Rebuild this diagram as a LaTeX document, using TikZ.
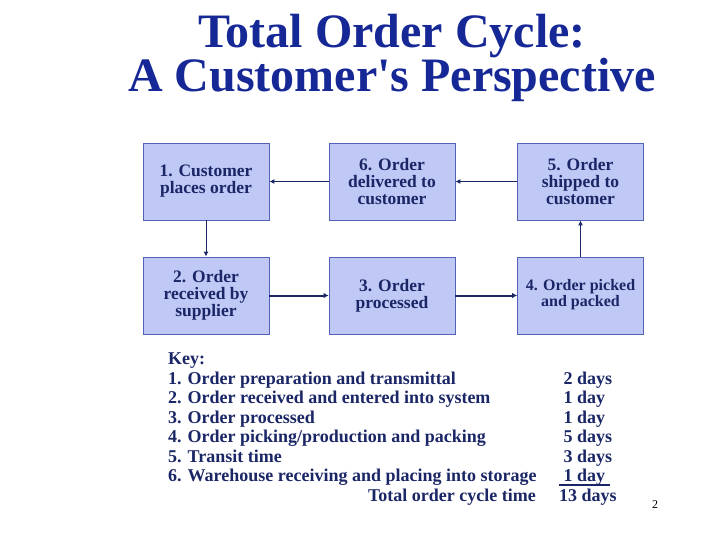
\documentclass[tikz,border=0pt]{standalone}
\usepackage{fontspec}
\setmainfont{Liberation Serif}
\usetikzlibrary{arrows.meta}
\definecolor{titleblue}{RGB}{22,40,150}
\definecolor{navy}{RGB}{26,38,102}
\definecolor{boxfill}{RGB}{192,200,246}
\definecolor{boxline}{RGB}{84,98,182}
\tikzset{
  stagebox/.style={draw=boxline, line width=0.8pt, fill=boxfill, minimum width=126, minimum height=77,
    align=center, text=navy, font=\bfseries\fontsize{17.5}{17}\selectfont, inner sep=2pt},
  thinarrow/.style={draw=navy, line width=1pt, -{Latex[length=5pt,width=5pt]}},
  thickarrow/.style={draw=navy, line width=2pt, -{Latex[length=5pt,width=5.5pt]}},
  keytext/.style={anchor=base west, inner sep=0pt, text=navy, font=\bfseries\fontsize{18}{19.5}\selectfont},
  titletext/.style={anchor=base, inner sep=0pt, text=titleblue, font=\bfseries\fontsize{48}{44}\selectfont}
}
\begin{document}
\begin{tikzpicture}[x=1pt,y=-1pt]
\useasboundingbox (0,0) rectangle (720,540);
% title
\node[titletext] (t1) at (392,48) {Total Order Cycle:};
\node[titletext] (t2) at (392,92) {A Customer\textquotesingle s Perspective};
% boxes
\node[stagebox] (b1) at (206,181.5) {1. Customer\\places order};
\node[stagebox] (b6) at (392,181.5) {6. Order\\delivered to\\customer};
\node[stagebox] (b5) at (580.5,181.5) {5. Order\\shipped to\\customer};
\node[stagebox] (b2) at (206,295.5) {2. Order\\received by\\supplier};
\node[stagebox] (b3) at (392,295.5) {3. Order\\processed};
\node[stagebox, font=\bfseries\fontsize{16}{16}\selectfont, text depth=6pt] (b4) at (580.5,295.5) {4. Order picked\\and packed};
% connectors
\draw[thinarrow] (b6) -- (b1);
\draw[thinarrow] (b5) -- (b6);
\draw[thinarrow] (b1) -- (b2);
\draw[thickarrow] (b2) -- (b3);
\draw[thickarrow] (b3) -- (b4);
\draw[thinarrow] (b4) -- (b5);
% key
\node[keytext] (k0) at (168,364.5) {Key:};
\node[keytext] (k1) at (168,384) {1. Order preparation and transmittal};
\node[keytext] (k2) at (168,403.5) {2. Order received and entered into system};
\node[keytext] (k3) at (168,423) {3. Order processed};
\node[keytext] (k4) at (168,442.5) {4. Order picking/production and packing};
\node[keytext] (k5) at (168,462) {5. Transit time};
\node[keytext] (k6) at (168,481.5) {6. Warehouse receiving and placing into storage};
\node[keytext, anchor=base east] (k7) at (536,501) {Total order cycle time};
\node[keytext] (d1) at (559,384) {\ 2 days};
\node[keytext] (d2) at (559,403.5) {\ 1 day};
\node[keytext] (d3) at (559,423) {\ 1 day};
\node[keytext] (d4) at (559,442.5) {\ 5 days};
\node[keytext] (d5) at (559,462) {\ 3 days};
\node[keytext] (d6) at (559,481.5) {\ 1 day};
\draw[navy, line width=1.2pt] (d6.base west) ++(0,3.5) coordinate (u1) -- ++(51,0);
\node[keytext] (d7) at (559,501) {13 days};
% page number
\node[anchor=base, inner sep=0pt, font=\fontsize{12}{12}\selectfont] (pg) at (655,508) {2};
\end{tikzpicture}
\end{document}
